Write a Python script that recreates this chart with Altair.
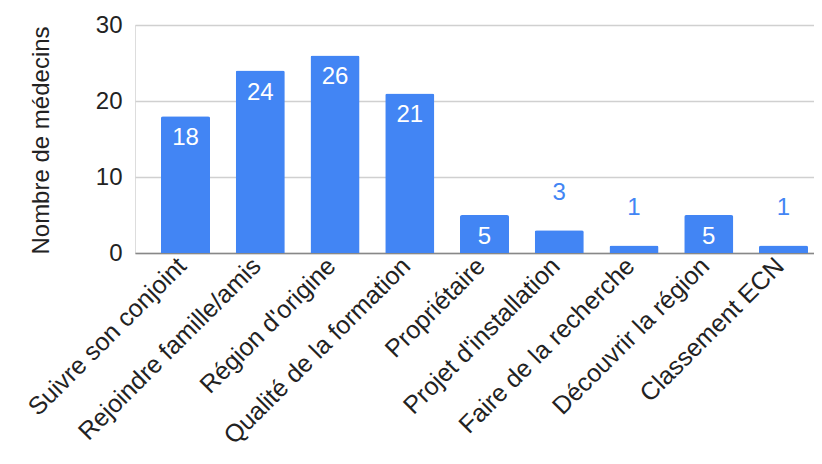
import altair as alt
import pandas as pd

categories = [
    "Suivre son conjoint",
    "Rejoindre famille/amis",
    "Région d'origine",
    "Qualité de la formation",
    "Propriétaire",
    "Projet d'installation",
    "Faire de la recherche",
    "Découvrir la région",
    "Classement ECN",
]
values = [18, 24, 26, 21, 5, 3, 1, 5, 1]
y_ticks = [0, 10, 20, 30]

df = pd.DataFrame({"cat": categories, "n": values})

FONT = "Liberation Sans"
BLUE = "#4285F4"

x_enc = alt.X(
    "cat:N",
    sort=categories,
    title=None,
    scale=alt.Scale(paddingInner=0.344, paddingOuter=0.214, align=0.8125),
    axis=alt.Axis(
        labelAngle=-45,
        labelAlign="right",
        labelBaseline="top",
        labelFontSize=25,
        labelFont=FONT,
        labelColor="#222222",
        labelPadding=0,
        labelOffset=-12,
        ticks=False,
        domain=True,
        domainColor="#888888",
        domainWidth=1.5,
        grid=False,
        labelLimit=400,
    ),
)
y_enc = alt.Y(
    "n:Q",
    scale=alt.Scale(domain=[0, 30], nice=False),
    axis=alt.Axis(
        values=y_ticks,
        title="Nombre de médecins",
        titleFont=FONT,
        titleFontSize=24,
        titleFontWeight="normal",
        titleColor="#222222",
        titleAngle=-90,
        titleAlign="center",
        titleBaseline="middle",
        titleX=-94,
        titleY=115,
        labelFont=FONT,
        labelFontSize=24,
        labelColor="#222222",
        labelPadding=13,
        ticks=False,
        domain=False,
        gridColor="#d0d0d0",
        gridWidth=1.5,
    ),
)

base = alt.Chart(df)

bars = base.mark_bar(
    color=BLUE, cornerRadiusTopLeft=2, cornerRadiusTopRight=2
).encode(x=x_enc, y=y_enc)

inside = base.transform_filter("datum.n >= 5").mark_text(
    font=FONT, fontSize=24, color="white", baseline="middle", dy=22
).encode(x=alt.X("cat:N", sort=categories), y="n:Q", text="n:Q")

outside = base.transform_filter("datum.n < 5").mark_text(
    font=FONT, fontSize=24, color=BLUE, baseline="middle", dy=-37
).encode(x=alt.X("cat:N", sort=categories), y="n:Q", text="n:Q")

chart = (
    alt.layer(bars, inside, outside)
    .properties(
        width=679,
        height=228,
        autosize=alt.AutoSizeParams(type="none"),
        padding={"left": 127, "top": 17, "right": 0, "bottom": 203},
    )
    .configure_view(stroke=None)
    .configure(background="white")
)

chart.save("out.html", embed_options={"renderer": "svg", "actions": False})
